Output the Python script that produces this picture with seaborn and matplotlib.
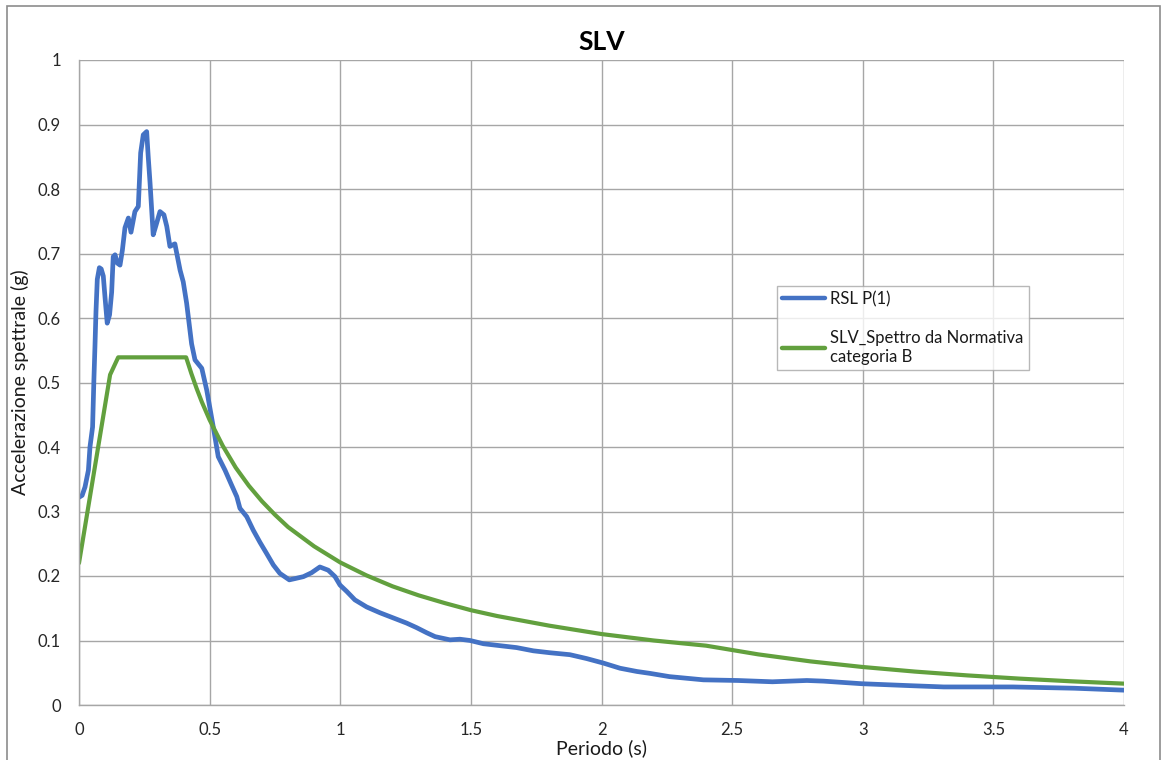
import matplotlib
matplotlib.use("Agg")
import matplotlib.pyplot as plt
import seaborn as sns
import pandas as pd
from matplotlib.patches import Rectangle

# Site response spectrum RSL P(1): period (s) and spectral acceleration (g)
rsl_period = [0, 0.012, 0.023, 0.036, 0.042, 0.052, 0.057, 0.061, 0.065, 0.070,
              0.078, 0.085, 0.093, 0.100, 0.108, 0.117, 0.125, 0.131, 0.138, 0.147,
              0.157, 0.166, 0.176, 0.189, 0.199, 0.214, 0.227, 0.236, 0.246, 0.259,
              0.265, 0.272, 0.284, 0.295, 0.310, 0.325, 0.336, 0.348, 0.367, 0.387,
              0.399, 0.412, 0.431, 0.444, 0.470, 0.489, 0.514, 0.533, 0.559, 0.584,
              0.604, 0.616, 0.642, 0.667, 0.693, 0.718, 0.744, 0.769, 0.805, 0.827,
              0.859, 0.890, 0.922, 0.954, 0.980, 0.999, 1.025, 1.056, 1.101, 1.152,
              1.203, 1.254, 1.292, 1.331, 1.363, 1.420, 1.458, 1.497, 1.548, 1.611,
              1.675, 1.739, 1.803, 1.879, 1.943, 2.007, 2.071, 2.135, 2.186, 2.26,
              2.39, 2.522, 2.654, 2.786, 2.85, 2.996, 3.18, 3.31, 3.575, 3.81, 4.0]
rsl_accel = [0.322, 0.325, 0.338, 0.364, 0.400, 0.431, 0.504, 0.555, 0.610, 0.660,
             0.678, 0.676, 0.665, 0.630, 0.592, 0.605, 0.640, 0.695, 0.698, 0.685,
             0.682, 0.705, 0.740, 0.755, 0.733, 0.765, 0.773, 0.856, 0.884, 0.889,
             0.850, 0.809, 0.729, 0.744, 0.765, 0.760, 0.742, 0.711, 0.715, 0.674,
             0.656, 0.623, 0.560, 0.535, 0.522, 0.488, 0.431, 0.385, 0.364, 0.341,
             0.323, 0.305, 0.292, 0.271, 0.252, 0.235, 0.217, 0.204, 0.194, 0.196,
             0.199, 0.205, 0.214, 0.209, 0.199, 0.186, 0.176, 0.163, 0.152, 0.143,
             0.135, 0.127, 0.120, 0.112, 0.106, 0.101, 0.102, 0.100, 0.095, 0.092,
             0.089, 0.084, 0.081, 0.078, 0.072, 0.065, 0.057, 0.052, 0.049, 0.044,
             0.039, 0.038, 0.036, 0.038, 0.037, 0.033, 0.030, 0.028, 0.028, 0.026,
             0.023]

# Code spectrum SLV, soil category B
ntc_period = [0, 0.119, 0.15, 0.41, 0.43, 0.45, 0.47, 0.5, 0.55, 0.6, 0.65, 0.7,
              0.75, 0.8, 0.9, 1.0, 1.1, 1.2, 1.3, 1.4, 1.5, 1.6, 1.8, 2.0, 2.2,
              2.4, 2.6, 2.8, 3.0, 3.2, 3.4, 3.6, 3.8, 4.0]
ntc_accel = [0.220, 0.512, 0.539, 0.539, 0.514, 0.491, 0.470, 0.442, 0.402, 0.368,
             0.340, 0.316, 0.295, 0.276, 0.246, 0.221, 0.201, 0.184, 0.170, 0.158,
             0.147, 0.138, 0.123, 0.110, 0.100, 0.092, 0.0785, 0.0676, 0.0589,
             0.0518, 0.0459, 0.0409, 0.0367, 0.0331]

series_names = ["RSL P(1)", "SLV_Spettro da Normativa\ncategoria B"]
x_ticks = [0, 0.5, 1, 1.5, 2, 2.5, 3, 3.5, 4]
x_tick_labels = ["0", "0.5", "1", "1.5", "2", "2.5", "3", "3.5", "4"]
y_ticks = [0, 0.1, 0.2, 0.3, 0.4, 0.5, 0.6, 0.7, 0.8, 0.9, 1]
y_tick_labels = ["0", "0.1", "0.2", "0.3", "0.4", "0.5", "0.6", "0.7", "0.8", "0.9", "1"]

df = pd.concat([
    pd.DataFrame({"Periodo": rsl_period, "Acc": rsl_accel, "serie": series_names[0]}),
    pd.DataFrame({"Periodo": ntc_period, "Acc": ntc_accel, "serie": series_names[1]}),
], ignore_index=True)

sns.set_theme(style="white")
plt.rcParams["font.family"] = ["Lato", "DejaVu Sans"]

W, H = 1164, 760
fig = plt.figure(figsize=(W / 100, H / 100), dpi=100)
ax = fig.add_axes([79 / W, 1 - 705 / H, (1124 - 79) / W, (705 - 60) / H])

palette = {series_names[0]: "#4472C4", series_names[1]: "#62A03E"}
sns.lineplot(data=df, x="Periodo", y="Acc", hue="serie", palette=palette,
             sort=False, estimator=None, ax=ax, linewidth=3.4, legend=False)
ax.lines[1].set_linewidth(3.0)
for ln in ax.lines:
    ln.set_solid_joinstyle("round")
    ln.set_solid_capstyle("round")

ax.set_xlim(0, 4)
ax.set_ylim(0, 1)
ax.set_xticks(x_ticks)
ax.set_xticklabels(x_tick_labels)
ax.set_yticks(y_ticks)
ax.set_yticklabels(y_tick_labels)
ax.tick_params(axis="both", labelsize=12, colors="#262626", length=0)
ax.tick_params(axis="x", pad=12)
ax.tick_params(axis="y", pad=13)
ax.grid(True, color="#a6a6a6", linewidth=1.0)
ax.set_axisbelow(True)
for side in ["top", "right"]:
    ax.spines[side].set_visible(False)
for side in ["left", "bottom"]:
    ax.spines[side].set_color("#a6a6a6")
    ax.spines[side].set_linewidth(1.0)

ax.set_xlabel("Periodo (s)", fontsize=14, color="#1a1a1a", labelpad=1)
ax.set_ylabel("Accelerazione spettrale (g)", fontsize=14, color="#1a1a1a", labelpad=6)
fig.text(0.5 * (79 + 1124) / W, 1 - 42 / H, "SLV", ha="center", va="center",
         fontsize=19, fontweight="bold", color="black")

handles = [plt.Line2D([], [], color=palette[n], linewidth=3.2) for n in series_names]
leg = ax.legend(handles, series_names, loc="upper left",
                bbox_to_anchor=((777 - 79) / 1045, (705 - 286) / 645),
                frameon=True, fancybox=False, fontsize=12, handlelength=2.6,
                handletextpad=0.3, labelspacing=1.4, borderpad=0.3,
                borderaxespad=0)
leg.get_frame().set_edgecolor("#a6a6a6")
leg.get_frame().set_linewidth(1.0)
for t in leg.get_texts():
    t.set_color("#1a1a1a")

# Chart-area border
fig.patches.append(Rectangle((7 / W, -0.05), (1160 - 7) / W, 1 - 6 / H + 0.05,
                             transform=fig.transFigure, fill=False,
                             edgecolor="#8c8c8c", linewidth=1.2))

fig.savefig("out.png", dpi=100)
